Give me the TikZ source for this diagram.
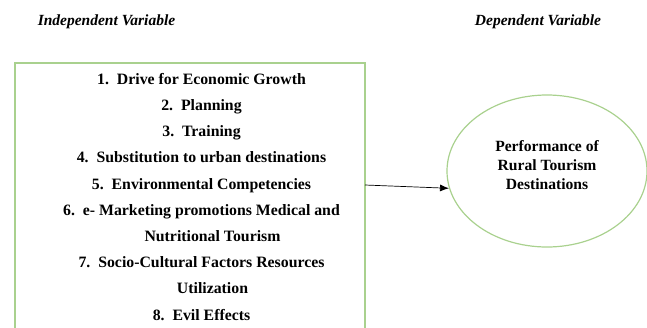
\documentclass[tikz,border=0pt]{standalone}
\usepackage{fontspec}
\setmainfont{Liberation Serif}
\usepackage{tikz}
\usetikzlibrary{shapes.geometric,arrows.meta,calc}
\definecolor{framegreen}{RGB}{169,209,142}
\tikzstyle{line} = [draw, -{Latex[length=9pt,width=7pt]}, line width=0.7pt]
\tikzstyle{heading} = [font=\fontsize{15.5}{18}\selectfont\bfseries\itshape]
\tikzstyle{factor} = [font=\fontsize{15.8}{19}\selectfont\bfseries, inner sep=0pt, text height=11pt, text depth=3.5pt]
\tikzstyle{frame} = [draw=framegreen, line width=1.5pt, rectangle, minimum width=350pt, minimum height=277pt]
\tikzstyle{outcome} = [draw=framegreen, line width=1.2pt, ellipse, minimum width=200pt, minimum height=152pt, align=center, inner sep=0pt, font=\fontsize{15.6}{19}\selectfont\bfseries]

\begin{document}
\begin{tikzpicture}[x=1pt, y=-1pt, node distance = 26.2pt, auto]
        \useasboundingbox (0,0) rectangle (647,327);
        \clip (0,0) rectangle (647,327);
        \node[heading] (indeptitle) at (106.5,22) {Independent Variable};
        \node[heading] (deptitle) at (538,22) {Dependent Variable};
        \node[frame] (indep) at (190,201.5) {};
        \node[factor] (item1) at (201.5,80.5) {1.\ \ Drive for Economic Growth};
        \node[factor, below of=item1] (item2) {2.\ \ Planning};
        \node[factor, below of=item2] (item3) {3.\ \ Training};
        \node[factor, below of=item3] (item4) {4.\ \ Substitution to urban destinations};
        \node[factor, below of=item4] (item5) {5.\ \ Environmental Competencies};
        \node[factor, below of=item5] (item6) {6.\ \ e- Marketing promotions Medical and};
        \node[factor, below of=item6, xshift=11pt] (item6b) {Nutritional Tourism};
        \node[factor, below of=item6b, xshift=-11pt] (item7) {7.\ \ Socio-Cultural Factors Resources};
        \node[factor, below of=item7, xshift=11pt] (item7b) {Utilization};
        \node[factor, below of=item7b, xshift=-11pt] (item8) {8.\ \ Evil Effects};
        \node[outcome] (dep) at (547,171) {Performance of\\Rural Tourism\\Destinations\\[-7pt]};
        \coordinate (arrowstart) at (365,185);
        \path[line] (arrowstart) -- (dep.190);
    \end{tikzpicture}
\end{document}
